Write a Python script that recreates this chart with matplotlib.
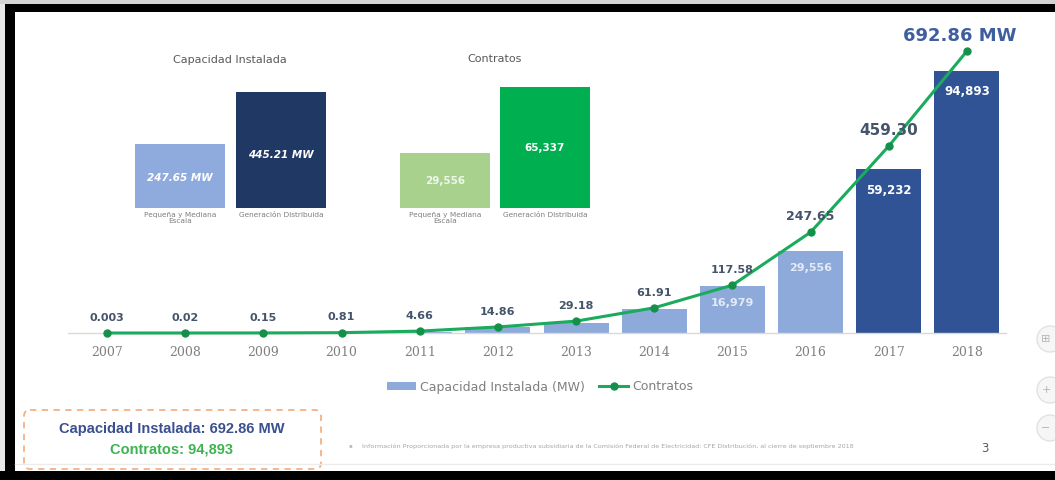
import matplotlib
matplotlib.use("Agg")
import matplotlib.pyplot as plt
from matplotlib.patches import Rectangle, FancyBboxPatch, Circle, Patch
from matplotlib.lines import Line2D

# ---- data -------------------------------------------------------------
years = ["2007", "2008", "2009", "2010", "2011", "2012",
         "2013", "2014", "2015", "2016", "2017", "2018"]
capacity_mw = [0.003, 0.02, 0.15, 0.81, 4.66, 14.86,
               29.18, 61.91, 117.58, 247.65, 459.30, 692.86]
contracts = [1, 5, 20, 100, 500, 2200,
             3600, 8700, 16979, 29556, 59232, 94893]

split_categories = ["Pequeña y Mediana\nEscala", "Generación Distribuida"]
split_capacity_mw = [247.65, 445.21]
split_contracts = [29556, 65337]

total_capacity_mw = 692.86
total_contracts = 94893

W, H = 1055, 480
fig = plt.figure(figsize=(W / 100, H / 100), dpi=100)
fig.patch.set_facecolor("white")


def px_axes(x0, y0, x1, y1):
    """Axes placed by pixel box (y measured from the top)."""
    return fig.add_axes([x0 / W, 1 - y1 / H, (x1 - x0) / W, (y1 - y0) / H])


GREY = "#7f7f7f"
SLATE = "#44546a"
LINE_GREEN = "#1aab5c"
DOT_GREEN = "#15904a"
LIGHT_BLUE = "#8eaadb"
DARK_BLUE = "#2f5395"

# ---- main chart: contracts as bars, installed MW as line ----------------
ax = px_axes(68, 40, 1006, 333)
x = list(range(len(years)))
bar_colors = [LIGHT_BLUE] * 10 + [DARK_BLUE] * 2
ax.bar(x, contracts, width=0.83, color=bar_colors, zorder=2)
ax.set_xlim(-0.5, len(years) - 0.5)
ax.set_ylim(0, 106000)
for s in ("top", "left", "right"):
    ax.spines[s].set_visible(False)
ax.spines["bottom"].set_color("#d9d9d9")
ax.spines["bottom"].set_linewidth(1.0)
ax.set_yticks([])
ax.set_xticks(x, years)
ax.tick_params(axis="x", length=0, pad=9, labelcolor=GREY, labelsize=9)
for t in ax.get_xticklabels():
    t.set_fontfamily("DejaVu Serif")
ax.patch.set_alpha(0)

first_labelled = 8
for i in range(first_labelled, len(years)):
    v = contracts[i]
    dark = i >= 10
    ax.annotate(f"{v:,}", (i, v), xytext=(0, -15 if dark else -12),
                textcoords="offset points", ha="center", va="center",
                color="white" if dark else "#e4ebf7",
                fontsize=8.5 if dark else 8, fontweight="bold")

ax2 = ax.twinx()
ax2.set_ylim(0, 720)
ax2.plot(x, capacity_mw, color=LINE_GREEN, lw=2.2, marker="o", ms=5,
         mfc=DOT_GREEN, mec=DOT_GREEN, zorder=3, clip_on=False)
for s in ax2.spines.values():
    s.set_visible(False)
ax2.set_yticks([])

label_sizes = [8] * 9 + [9, 11, 13]
for i, v in enumerate(capacity_mw):
    txt = f"{v:.3f}" if v < 0.01 else f"{v:.2f}"
    dx = 0
    color = SLATE
    if i == len(capacity_mw) - 1:
        txt += " MW"
        dx = -5
        color = "#3f5e9e"
    ax2.annotate(txt, (i, v), xytext=(dx, 11), textcoords="offset points",
                 ha="center", va="center", color=color,
                 fontsize=label_sizes[i], fontweight="bold", zorder=4)

handles = [Patch(facecolor=LIGHT_BLUE, edgecolor="none"),
           Line2D([], [], color=LINE_GREEN, lw=2.2, marker="o", ms=5,
                  mfc=DOT_GREEN, mec=DOT_GREEN)]
fig.legend(handles, ["Capacidad Instalada (MW)", "Contratos"],
           loc="center", bbox_to_anchor=(540 / W, 1 - 387 / H), ncol=2,
           frameon=False, fontsize=9, labelcolor=GREY, handlelength=2.3,
           handleheight=0.6, columnspacing=1.2, handletextpad=0.3)

# ---- inset: installed capacity split ------------------------------------
axc = px_axes(120, 78, 340, 208)
axc.bar([0, 1], split_capacity_mw, width=0.89,
        color=["#8faadc", "#203864"])
axc.set_xlim(-0.594, 1.584)
axc.set_ylim(0, 500)
axc.axis("off")
for i, v in enumerate(split_capacity_mw):
    axc.text(i, v * 0.46, f"{v:.2f} MW", ha="center", va="center",
             color="white", fontsize=7.5, fontweight="bold", fontstyle="italic")
    axc.text(i, -14, split_categories[i], ha="center", va="top",
             color=GREY, fontsize=5.3, linespacing=1.1)

# ---- inset: contracts split ---------------------------------------------
axk = px_axes(385, 78, 605, 208)
axk.bar([0, 1], split_contracts, width=0.9, color=["#a9d18e", "#00b050"])
axk.set_xlim(-0.6, 1.6)
axk.set_ylim(0, 70200)
axk.axis("off")
for i, v in enumerate(split_contracts):
    axk.text(i, v * 0.5, f"{v:,}", ha="center", va="center",
             color="#eef7ea" if i == 0 else "white", fontsize=7.5,
             fontweight="bold")
    axk.text(i, -1970, split_categories[i], ha="center", va="top",
             color=GREY, fontsize=5.3, linespacing=1.1)

# ---- overlay in pixel coordinates: titles, notes, frame -----------------
ov = fig.add_axes([0, 0, 1, 1])
ov.set_xlim(0, W)
ov.set_ylim(H, 0)
ov.axis("off")
ov.patch.set_alpha(0)

ov.text(230, 60, "Capacidad Instalada", ha="center", va="center",
        color="#595959", fontsize=8)
ov.text(495, 59, "Contratos", ha="center", va="center",
        color="#595959", fontsize=8)

box = FancyBboxPatch((24, 410), 297, 59,
                     boxstyle="round,pad=0,rounding_size=6",
                     facecolor="white", edgecolor="#f4b183", lw=1.3,
                     linestyle=(0, (3.5, 3)))
ov.add_patch(box)
ov.text(172, 429, f"Capacidad Instalada: {total_capacity_mw:.2f} MW",
        ha="center", va="center", color="#3a5090", fontsize=10.5,
        fontweight="bold", family="Liberation Sans")
ov.text(172, 450, f"Contratos: {total_contracts:,}",
        ha="center", va="center", color="#3cb450", fontsize=10.5,
        fontweight="bold", family="Liberation Sans")

ov.text(350, 446, "\u25aa", ha="center", va="center", color="#bfbfbf",
        fontsize=4)
ov.text(362, 446,
        "Información Proporcionada por la empresa productiva subsidiaria de la "
        "Comisión Federal de Electricidad: CFE Distribución, al cierre de septiembre 2018",
        ha="left", va="center", color="#a6a6a6", fontsize=4.6)
ov.text(985, 449, "3", ha="center", va="center", color="#595959",
        fontsize=8.5)

# slide-edge line and viewer buttons
ov.plot([15, W], [464, 464], color="#ececec", lw=1)
for cy, sym in [(339, "\u229e"), (390, "+"), (428, "\u2212")]:
    ov.add_patch(Circle((1050, cy), 13, facecolor="#f6f6f6",
                        edgecolor="#e2e2e2", lw=1))
    ov.text(1046, cy, sym, ha="center", va="center", color="#b5b5b5",
            fontsize=8)

# dark frame around the slide
ov.add_patch(Rectangle((0, 0), W, 4, facecolor="#d4d4d4", edgecolor="none"))
ov.add_patch(Rectangle((0, 4), W, 8, facecolor="black", edgecolor="none"))
ov.add_patch(Rectangle((0, 4), 5, H, facecolor="#e8e8e8", edgecolor="none"))
ov.add_patch(Rectangle((5, 4), 10, H, facecolor="black", edgecolor="none"))
ov.add_patch(Rectangle((0, 471), W, 9, facecolor="black", edgecolor="none"))

fig.savefig("out.png", dpi=100, facecolor="white")
